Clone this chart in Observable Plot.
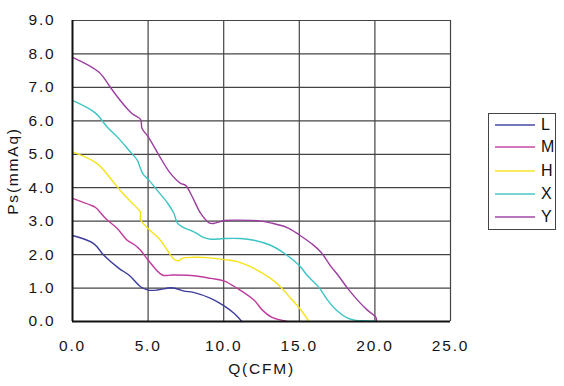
<!DOCTYPE html>
<html><head><meta charset="utf-8">
<script src="https://cdn.jsdelivr.net/npm/d3@7"></script>
<script src="https://cdn.jsdelivr.net/npm/@observablehq/plot@0.6"></script>
<style>
body{margin:0;background:#fff;}
#wrap{position:relative;width:564px;height:386px;font-family:"Liberation Sans",Arial,sans-serif;}
#legend{position:absolute;left:488px;top:113px;width:68px;height:117px;border:1px solid #444;box-sizing:border-box;background:#fff;}
.item{position:absolute;left:6px;height:16px;display:flex;align-items:center;font-size:16px;color:#111;}
.item span.sw{display:inline-block;width:40px;height:2px;margin-right:6px;}
</style>
</head><body>
<div id="wrap"><div id="chart"></div><div id="legend"></div></div>
<script>
const seriesNames = ["L","M","H","X","Y"];
const seriesColors = ["#3c3c9c","#c03c9c","#f5e31a","#3cc4c4","#9c3ca0"];
const xTicks = [0,5,10,15,20,25];
const yTicks = [0,1,2,3,4,5,6,7,8,9];

const L_q = [0,1.4,2.07,3.07,3.73,4.5,5.0,5.6,6.5,6.9,7.37,8.0,9.14,10.05,10.7,11.2];
const L_p = [2.57,2.33,1.98,1.59,1.39,1.04,0.94,0.94,1.01,0.98,0.91,0.87,0.69,0.46,0.24,0];

const M_q = [0,1.19,1.52,2.19,2.96,3.62,4.06,4.5,5.0,5.94,6.6,8.03,9.14,10.05,10.9,12.0,12.56,13.2,13.8,14.2];
const M_p = [3.68,3.48,3.41,3.08,2.78,2.43,2.31,2.13,1.84,1.39,1.39,1.37,1.29,1.21,0.99,0.64,0.34,0.12,0.04,0];

const H_q = [0,1.63,2.7,3.29,4.08,4.48,4.5,5.0,5.72,6.27,6.71,7.04,7.26,8.03,8.9,10.05,10.9,12.0,13.1,13.8,14.44,15.03,15.65];
const H_p = [5.07,4.72,4.17,3.85,3.48,3.28,3.05,2.78,2.48,2.13,1.86,1.82,1.89,1.92,1.91,1.85,1.79,1.59,1.29,1.02,0.69,0.39,0];

const X_q = [0,1.52,2.3,2.96,3.73,4.29,4.46,4.68,5.01,5.6,6.27,6.71,6.93,7.26,8.03,8.7,9.14,10.05,11.1,12.0,13.1,14.0,15.03,15.5,16.3,16.87,17.5,18.2,18.66,19.5,20.0];
const X_p = [6.61,6.23,5.81,5.52,5.12,4.82,4.62,4.40,4.25,3.92,3.55,3.23,2.95,2.83,2.68,2.51,2.46,2.48,2.48,2.43,2.28,2.04,1.66,1.39,1.02,0.64,0.32,0.10,0.04,0.02,0.02];

const Y_q = [0,1.74,2.52,3.07,3.62,3.95,4.5,4.6,5.01,5.72,6.49,7.15,7.48,7.92,8.48,9.03,9.3,10.05,10.9,12.34,13.1,14.2,15.03,15.8,16.42,17.1,17.5,18.2,18.85,19.5,20.07,20.1];
const Y_p = [7.90,7.46,6.99,6.66,6.36,6.21,6.04,5.77,5.52,4.97,4.42,4.13,4.07,3.73,3.23,2.95,2.93,3.02,3.03,3.01,2.95,2.81,2.58,2.33,2.08,1.64,1.42,0.99,0.64,0.34,0.12,0];

const allQ = [L_q,M_q,H_q,X_q,Y_q];
const allP = [L_p,M_p,H_p,X_p,Y_p];
const data = [];
seriesNames.forEach((s,i)=>allQ[i].forEach((q,j)=>data.push({s,q,p:allP[i][j]})));

const fmt = d3.format(".1f");
const chart = Plot.plot({
  width:564, height:386,
  marginLeft:72, marginRight:114, marginTop:20, marginBottom:65,
  style:{fontFamily:"'Liberation Sans',Arial,sans-serif", fontSize:"15.5px", color:"#151515", background:"#fff"},
  x:{domain:[0,25], ticks:xTicks, tickFormat:fmt},
  y:{domain:[0,9], ticks:yTicks, tickFormat:fmt},
  color:{domain:seriesNames, range:seriesColors},
  marks:[
    Plot.ruleX(xTicks.slice(1), {stroke:"#444", strokeWidth:1.2}),
    Plot.ruleY(yTicks.slice(1), {stroke:"#444", strokeWidth:1.2}),
    Plot.line(data, {x:"q", y:"p", z:"s", stroke:"s", strokeWidth:1.4, curve:"catmull-rom"}),
    Plot.ruleX([0], {stroke:"#111", strokeWidth:2}),
    Plot.ruleY([0], {stroke:"#111", strokeWidth:2}),
    Plot.axisX({ticks:xTicks, tickFormat:fmt, tickSize:0, tickPadding:18, fontSize:15.5, label:"Q(CFM)", labelAnchor:"center", labelArrow:"none", labelOffset:52}),
    Plot.axisY({ticks:yTicks, tickFormat:fmt, tickSize:0, tickPadding:17, fontSize:15.5, label:"Ps(mmAq)", labelAnchor:"center", labelArrow:"none", labelOffset:66})
  ]
});
d3.select(chart).selectAll("text").style("letter-spacing","1.8px");
document.getElementById("chart").appendChild(chart);

const leg = document.getElementById("legend");
const tops = [3,25,49,72,95];
seriesNames.forEach((s,i)=>{
  const d = document.createElement("div");
  d.className="item"; d.style.top = tops[i]+"px";
  d.innerHTML = `<span class="sw" style="background:${seriesColors[i]};opacity:0.7"></span>${s}`;
  leg.appendChild(d);
});
</script>
</body></html>
